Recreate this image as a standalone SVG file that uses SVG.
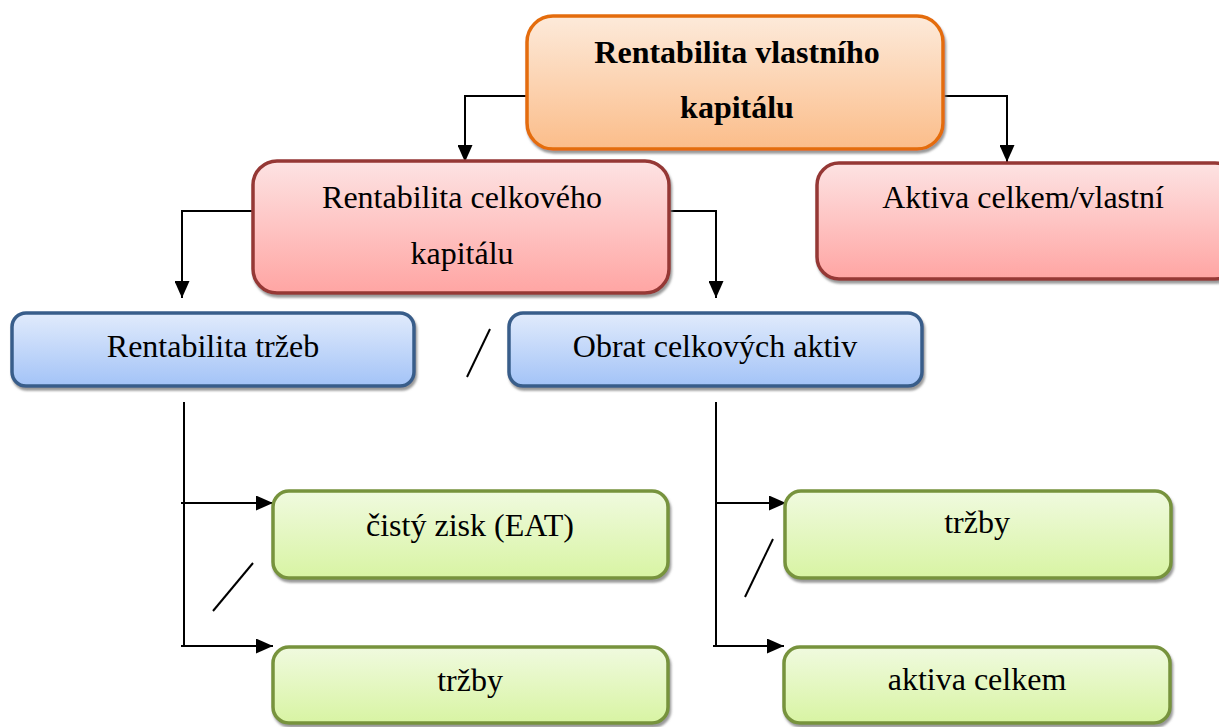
<svg xmlns="http://www.w3.org/2000/svg" width="1219" height="727" viewBox="0 0 1219 727">
<style>
.t{font-family:"Liberation Serif","Times New Roman",serif;font-size:32px;fill:#000;text-anchor:middle}
.b{font-weight:bold}
.c{fill:none;stroke:#000;stroke-width:2}
.box{stroke-width:3.5;filter:url(#sh)}
.or{fill:url(#gOr);stroke:#E46C0A}
.rd{fill:url(#gRd);stroke:#953735}
.bl{fill:url(#gBl);stroke:#385D8A}
.gr{fill:url(#gGr);stroke:#77933C}
</style>
<defs>
<linearGradient id="gOr" x1="0" y1="0" x2="0" y2="1"><stop offset="0" stop-color="#FDEADA"/><stop offset="1" stop-color="#FBBD8A"/></linearGradient>
<linearGradient id="gRd" x1="0" y1="0" x2="0" y2="1"><stop offset="0" stop-color="#FDE3E3"/><stop offset="1" stop-color="#FFA5A3"/></linearGradient>
<linearGradient id="gBl" x1="0" y1="0" x2="0" y2="1"><stop offset="0" stop-color="#E1EBFC"/><stop offset="1" stop-color="#A3C3F7"/></linearGradient>
<linearGradient id="gGr" x1="0" y1="0" x2="0" y2="1"><stop offset="0" stop-color="#F0FADF"/><stop offset="1" stop-color="#D8F4A3"/></linearGradient>
<filter id="sh" x="-5%" y="-5%" width="115%" height="125%"><feDropShadow dx="1.5" dy="3" stdDeviation="1" flood-color="#808080" flood-opacity="0.8"/></filter>
<marker id="ar" viewBox="0 0 17 15" refX="17" refY="7.5" markerWidth="17" markerHeight="15" markerUnits="userSpaceOnUse" orient="auto"><path d="M0,0 L17,7.5 L0,15 z" fill="#000"/></marker>
</defs>

<g id="connectors">
<polyline class="c" points="527,96 465,96 465,162" marker-end="url(#ar)"/>
<polyline class="c" points="943,96 1007,96 1007,162" marker-end="url(#ar)"/>
<polyline class="c" points="253,211 182,211 182,298" marker-end="url(#ar)"/>
<polyline class="c" points="669,211 716,211 716,298" marker-end="url(#ar)"/>
<line class="c" x1="184" y1="402" x2="184" y2="647"/>
<line class="c" x1="181" y1="503" x2="273" y2="503" marker-end="url(#ar)"/>
<line class="c" x1="181" y1="646" x2="273" y2="646" marker-end="url(#ar)"/>
<line class="c" x1="716" y1="402" x2="716" y2="647"/>
<line class="c" x1="716" y1="503" x2="786" y2="503" marker-end="url(#ar)"/>
<line class="c" x1="713" y1="646" x2="784" y2="646" marker-end="url(#ar)"/>
<line class="c" x1="467" y1="377" x2="490" y2="329"/>
<line class="c" x1="213" y1="611" x2="253" y2="563"/>
<line class="c" x1="745" y1="597" x2="773" y2="539"/>
</g>

<g id="n-roe">
<rect class="box or" x="527" y="16" width="416" height="133" rx="26"/>
<text class="t b" x="737" y="63">Rentabilita vlastního</text>
<text class="t b" x="737" y="118">kapitálu</text>
</g>
<g id="n-roa">
<rect class="box rd" x="253" y="161" width="416" height="132" rx="24"/>
<text class="t" x="462" y="208">Rentabilita celkového</text>
<text class="t" x="462" y="264">kapitálu</text>
</g>
<g id="n-akt">
<rect class="box rd" x="817" y="163" width="420" height="116" rx="22"/>
<text class="t" x="1023" y="208">Aktiva celkem/vlastní</text>
</g>
<g id="n-ros">
<rect class="box bl" x="12" y="313" width="402" height="73" rx="14"/>
<text class="t" x="213" y="357">Rentabilita tržeb</text>
</g>
<g id="n-obrat">
<rect class="box bl" x="509" y="313" width="413" height="73" rx="14"/>
<text class="t" x="715" y="357">Obrat celkových aktiv</text>
</g>
<g id="n-eat">
<rect class="box gr" x="273" y="491" width="395" height="87" rx="16"/>
<text class="t" x="470" y="536">čistý zisk (EAT)</text>
</g>
<g id="n-trzby1">
<rect class="box gr" x="273" y="647" width="395" height="76" rx="16"/>
<text class="t" x="470" y="691">tržby</text>
</g>
<g id="n-trzby2">
<rect class="box gr" x="785" y="491" width="386" height="87" rx="16"/>
<text class="t" x="977" y="533">tržby</text>
</g>
<g id="n-aktiva">
<rect class="box gr" x="784" y="647" width="386" height="76" rx="16"/>
<text class="t" x="977" y="690">aktiva celkem</text>
</g>
</svg>
